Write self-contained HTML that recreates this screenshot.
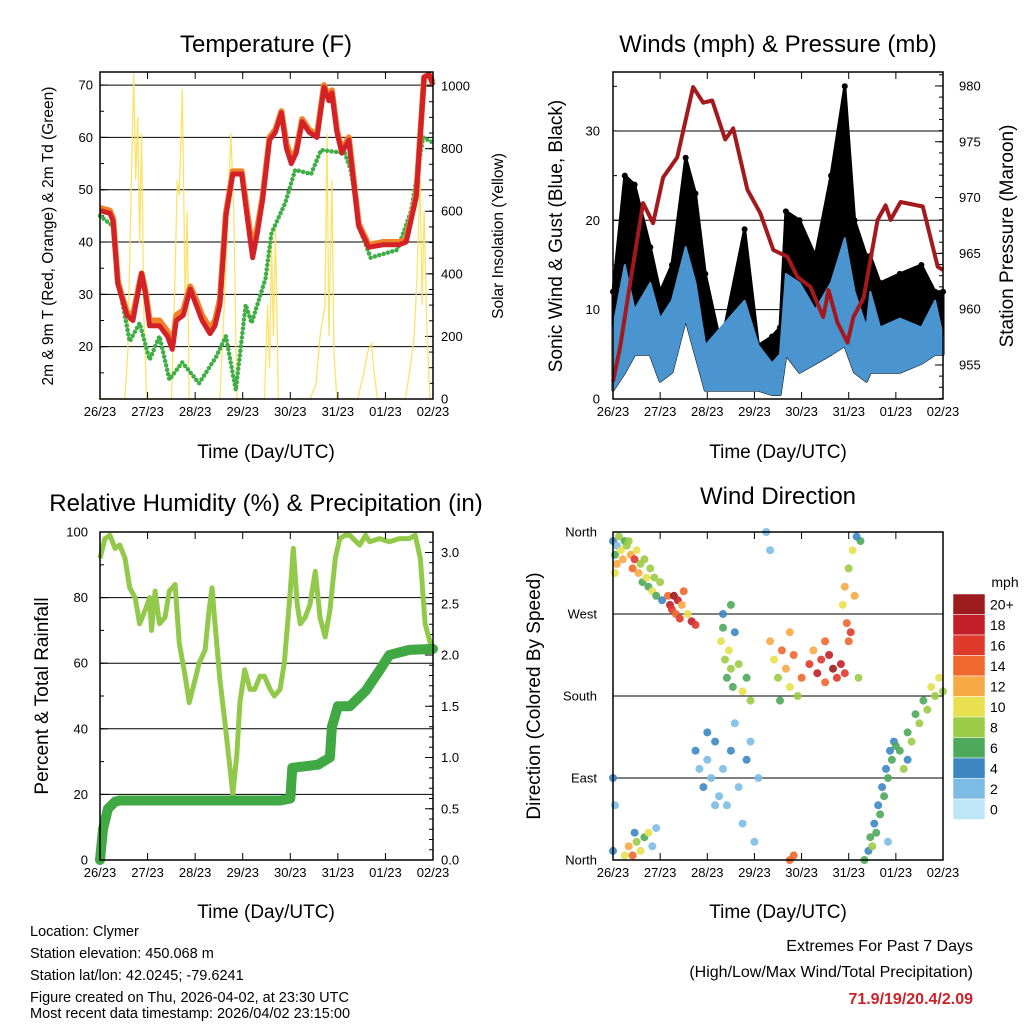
<!DOCTYPE html>
<html><head><meta charset="utf-8"><style>
html,body{margin:0;padding:0;background:#fff;}
svg{display:block;font-family:"Liberation Sans",sans-serif;}
</style></head><body>
<svg id="c" width="1024" height="1024" viewBox="0 0 1024 1024" xmlns="http://www.w3.org/2000/svg">
<g id="txt">
<text x="266" y="52" font-size="24" text-anchor="middle">Temperature (F)</text>
<text x="778" y="52" font-size="24" text-anchor="middle">Winds (mph) &amp; Pressure (mb)</text>
<text x="266" y="511" font-size="24" text-anchor="middle">Relative Humidity (%) &amp; Precipitation (in)</text>
<text x="778" y="504" font-size="24" text-anchor="middle">Wind Direction</text>
<text transform="translate(53,236) rotate(-90)" font-size="15.5" text-anchor="middle">2m &amp; 9m T (Red, Orange) &amp; 2m Td (Green)</text>
<text transform="translate(503,236) rotate(-90)" font-size="15.5" text-anchor="middle">Solar Insolation (Yellow)</text>
<text transform="translate(562,236) rotate(-90)" font-size="19" text-anchor="middle">Sonic Wind &amp; Gust (Blue, Black)</text>
<text transform="translate(1013,236) rotate(-90)" font-size="19" text-anchor="middle">Station Pressure (Maroon)</text>
<text transform="translate(48,696) rotate(-90)" font-size="19" text-anchor="middle">Percent &amp; Total Rainfall</text>
<text transform="translate(540,696) rotate(-90)" font-size="19" text-anchor="middle">Direction (Colored By Speed)</text>
<text x="266" y="458" font-size="19" text-anchor="middle">Time (Day/UTC)</text>
<text x="778" y="458" font-size="19" text-anchor="middle">Time (Day/UTC)</text>
<text x="266" y="918" font-size="19" text-anchor="middle">Time (Day/UTC)</text>
<text x="778" y="918" font-size="19" text-anchor="middle">Time (Day/UTC)</text>
<g font-size="14.5">
<text x="30" y="936">Location: Clymer</text>
<text x="30" y="958">Station elevation: 450.068 m</text>
<text x="30" y="980">Station lat/lon: 42.0245; -79.6241</text>
<text x="30" y="1002">Figure created on Thu, 2026-04-02, at 23:30 UTC</text>
<text x="30" y="1018">Most recent data timestamp: 2026/04/02 23:15:00</text>
</g>
<g font-size="16" text-anchor="end">
<text x="973" y="951">Extremes For Past 7 Days</text>
<text x="973" y="977">(High/Low/Max Wind/Total Precipitation)</text>
<text x="973" y="1004" fill="#cc2229" font-weight="bold">71.9/19/20.4/2.09</text>
</g>
<text x="1005" y="587" font-size="14" text-anchor="middle">mph</text>
</g>
</svg>
<script>
// ---- Temperature panel data (hours since 26/23) ----
const tempRedHours=[0,5,6.6,9,13.6,16.6,19,21,23,25,30,34,36.5,38.5,42,45.5,48.5,51.5,55.5,58,60.5,63.5,67,71.5,74.5,77,79.5,82,85.5,88.5,91.5,94,96.5,99,102,105.5,109.5,113,115.5,117,119.5,122,125.5,130.5,135.5,143,151,154.5,159.5,163.5,166,168];
const tempRed=[46,45.5,44,32,26,25,30,34,30,24,24,22,19.5,25,26,31,28,25,22.5,24,28,45,53,53,44,37,42,48,59.5,61,64.7,58,55,57,63,61,60,69.6,67,68.5,61,57,59.5,43,39,39.5,39.5,40,48.6,71.5,72,70];
const tempOrange=[46.5,46,44.5,32.5,26.5,26,30.5,34,30.5,25,25,23,20,26,27,31.5,29,26,23.5,25,29,45.5,53.5,53.5,45,38.5,43,48.5,60,61.5,65,59,56,57.5,63.5,61.5,60.5,70,67.5,69,61.5,57.5,60,43.5,39.5,40,40,40.5,49,71.5,72,70.5];
const dewHours=[0,6.6,10,15,20,25,30,35,41.5,50,58.5,63.5,68.5,73.5,76.5,83.5,86.5,93.5,98.5,106.5,111.5,123.5,126.5,131.5,136.5,150,157,163,168];
const dewGreen=[45,43,31,21,24.5,17.5,22,13.7,17,13,18,22,11.7,28,24.5,33,41.7,47.5,53.8,53,57.6,57,53.8,42,37,38.5,46,60,59];
const solarHours=[0,12.5,14,15.5,17,18,19,20,21,22,23.5,36,37.5,39,40,41.5,43,44,45,60.5,62,64,66,67.5,69,83,84.5,85.5,86.5,87.5,88.5,90,106,109,111,113.5,114.5,115.5,117,118,119.5,130,133,135,137,138,140,154,156.5,158.5,160,161.5,162.5,163.5,165,166.5,168];
const solarWm2=[0,0,150,600,1040,700,900,500,850,300,0,0,300,700,650,990,300,600,0,0,200,500,850,600,0,0,300,100,500,200,550,0,0,50,200,300,850,200,700,150,0,0,80,150,180,100,0,0,100,200,400,700,300,600,200,0,0];
const tempTicks=[20,30,40,50,60,70];
const solarTicks=[0,200,400,600,800,1000];
// ---- Wind panel data ----
const windHours=[0,6,11,19,24,30,37,42,47,55,67,74,81,85,88,95,103,111,118,123,129,131,136,146,157,164,168];
const windHigh=[8,15,10,13,9,11,17,13,6,8,11,6,4,5,14,13,10,13,18,12,8,12,8,9,8,11,7];
const windLow=[1,3,5,5,2,3,9,5,1,1,1,1,0.5,0.5,5,3,4,5,6,3,2,3,3,3,4,5,5];
const gustHigh=[12,25,24,17,12,15,27,23,14,6,19,6,7,8,21,20,16,25,35,20,16,16,13,14,15,12,12];
const presHours=[0,3.6,8.7,15.3,20.4,25.5,32.7,40.8,45.9,50.5,57.1,61.2,68.4,75,81.6,88.8,93.9,100.5,107,109.7,114.3,119.4,122.4,127.6,134.7,138.8,141.3,146.4,157.7,165.3,168];
const presMb=[953.5,956.6,962.3,969.5,967.7,971.8,973.6,979.9,978.5,978.7,975.2,976.2,970.7,968.6,965.3,964.7,962.9,962,959.3,961.7,958.8,957,959.3,961,968,969.3,968,969.6,969.2,963.8,963.5];
const windTicks=[0,10,20,30];
const presTicks=[955,960,965,970,975,980];
// ---- Humidity panel data ----
const rhHours=[0,2.5,5,7.6,10,12.6,15,17.7,20,22.7,25,26,27.8,30,32.8,35,37.9,40,43,45,48,50,53,55,56.5,58,60.5,63,65.6,67,69,70.6,73,75.7,78,80.7,83,85.8,88,90.8,93,96,97.5,99.5,101,103.5,106,108.6,111,113.6,116,118.7,121,123.7,126,131,134,136,141,146,151,156,159,161.6,164,166.7,168];
const rhPct=[92,98,99,95,96,92,83,80,72,76,80,70,82,72,74,82,84,66,56,48,55,60,64,76,83,72,55,42,28,20,32,48,58,52,52,56,56,52,50,52,60,82,95,78,72,74,78,88,74,68,76,92,98,99,99,96,99,97,98,97,98,98,99,92,72,66,65];
const precipHours=[0,1.5,4,7.6,10,91,96,97,110,116,117,120,126,134,141,146,156,168];
const precipIn=[0,0.3,0.5,0.57,0.58,0.58,0.6,0.9,0.93,1.0,1.3,1.5,1.5,1.65,1.85,2.0,2.05,2.06];
const rhTicks=[0,20,40,60,80,100];
const precipTicks=[0,0.5,1,1.5,2,2.5,3];
// ---- Wind direction data ----
const dirHours=[0,1,2,3,4,5,6,7,1,2, 0,1,0,6,8,10,12,14,16,18,20,11,22, 8,9,10,11,12,13,14,15, 16,17,18,19,20,21,22,24,25, 28,29,30,31,32,33,34,35,36,38,40,42, 55,56,57,58,59,60,61,62,64,66,68,70,60,56, 42,44,46,48,50,52,54,56,58,60,62,64,66,68,70,72,74,48,52,78,80, 80,82,84,86,88,90,92,94,85,90, 96,100,104,106,108,110,112,114,116,118,102,108, 117,118,119,120,121,122,123,125,120,126,124, 128,130,131,132,133,134,135,136,137,138,139,140,141,142,143,144,140, 146,148,150,152,154,156,158,160,162,164,166,168,150, 90,92];
const dirDeg=[350,335,345,355,340,330,350,345,315,325, 10,60,90,5,15,5,20,10,25,30,15,30,35, 350,335,320,330,340,315,325,305, 330,310,300,320,295,310,290,305,285, 290,280,275,290,270,285,265,280,295,270,262,258, 240,255,220,200,230,210,190,250,215,185,200,175,280,270, 120,100,80,110,90,130,70,100,60,120,150,80,40,110,130,20,90,140,60,360,340, 240,220,200,230,210,190,225,180,175,250, 200,215,205,220,195,225,210,200,215,205,230,240, 280,300,260,320,250,340,290,200,240,350,355, 0,10,25,15,40,30,60,50,80,70,100,90,120,110,130,125,20, 120,100,140,130,160,150,175,165,190,180,200,185,110, 0,5];
const dirMph=[4,6,2,8,10,12,6,8,10,12, 4,2,4,10,12,14,8,10,6,10,2,4,2, 8,12,14,16,10,12,8,6, 8,10,6,8,10,8,6,8,4, 14,18,16,20,14,18,16,12,14,10,18,16, 10,6,8,6,10,8,6,4,8,10,6,8,6,4, 4,2,4,2,2,4,2,2,2,4,2,2,2,4,2,2,2,4,2,2,2, 12,10,8,14,12,10,14,8,6,12, 14,16,18,16,14,18,20,16,18,16,12,14, 10,12,14,8,16,10,12,8,14,6,4, 6,4,6,8,4,6,4,6,4,6,4,6,4,6,4,6,2, 6,8,6,8,6,8,6,8,10,8,10,8,4, 14,14];
const dirTickLabels=["North","East","South","West","North"];
const dayLabels=["26/23","27/23","28/23","29/23","30/23","31/23","01/23","02/23"];
const speedLabels=["20+","18","16","14","12","10","8","6","4","2","0"];
const speedColors=["#9b1b1f","#c21f2b","#e03a2c","#f0682d","#f7a945","#e8e04f","#9ccb45","#4fa95b","#3d87c3","#7cbce4","#bfe6f7"];
</script>
<script>
const svg=document.getElementById('c');
const NS='http://www.w3.org/2000/svg';
function lin(d0,d1,r0,r1){return v=>r0+(v-d0)/(d1-d0)*(r1-r0);}
function mk(tag,name,attrs,parent){
  const el=document.createElementNS(NS,tag);
  for(const k in attrs)el.setAttribute(k,attrs[k]);
  
  
  (parent||svg).appendChild(el);return el;
}
function pathFrom(xs,ys,fx,fy){return xs.map((t,i)=>(i?'L':'M')+fx(t).toFixed(1)+','+fy(ys[i]).toFixed(1)).join('');}
function txt(x,y,s,anchor,size,name){const t=mk('text',name,{x:x,y:y,'font-size':size||13,'text-anchor':anchor||'middle'});t.textContent=s;return t;}

function frame(x0,y0,x1,y1,pre){
  const fx=lin(0,7,x0,x1);
  for(let d=0;d<=7;d++){
    const x=fx(d);
    mk('line',pre+'-x-tick',{x1:x,x2:x,y1:y1,y2:y1-7,stroke:'#000','stroke-width':1});
    mk('line',pre+'-top-tick',{x1:x,x2:x,y1:y0,y2:y0+7,stroke:'#000','stroke-width':1});
    txt(x,y1+17,dayLabels[d],'middle',13,pre+'-x-tick-label');
  }
}
function border(x0,y0,x1,y1,pre){mk('rect',pre+'-plot-border',{x:x0,y:y0,width:x1-x0,height:y1-y0,fill:'none',stroke:'#000','stroke-width':1.5});}
function leftAxis(ticks,fy,x0,x1,labelX,pre,fmt,grid,minorStep,dmin,dmax,side){
  ticks.forEach(v=>{
    const y=fy(v);
    if(grid)mk('line',pre+'-grid-line',{x1:x0,x2:x1,y1:y,y2:y,stroke:'#000','stroke-width':1});
    const xe=side==='left'?x0:x1, dir=side==='left'?1:-1;
    mk('line',pre+'-major-tick',{x1:xe,x2:xe+dir*8,y1:y,y2:y,stroke:'#000','stroke-width':1});
    txt(labelX,y+4.5,fmt?fmt(v):String(v),side==='left'?'end':'start',13,pre+'-tick-label');
  });
  if(minorStep){for(let v=dmin;v<=dmax+1e-9;v+=minorStep){const y=fy(v);const xe=side==='left'?x0:x1,dir=side==='left'?1:-1;
    mk('line',pre+'-minor-tick',{x1:xe,x2:xe+dir*4,y1:y,y2:y,stroke:'#000','stroke-width':1});}}
}

// ===== Panel 1: Temperature =====
(function(){
  const X0=100,X1=433,Y0=72,Y1=399;
  const fx=lin(0,168,X0,X1), fT=lin(10,72.5,Y1,Y0), fS=lin(0,1045,Y1,Y0);
  leftAxis(tempTicks,fT,X0,X1,93,'temp',null,true,5,15,70,'left');
  leftAxis(solarTicks,fS,X0,X1,441,'solar',null,false,50,0,1000,'right');
  mk('path','solar-line',{d:pathFrom(solarHours,solarWm2,fx,fS),fill:'none',stroke:'#fbe05a','stroke-width':1.3,opacity:0.9});
  mk('path','dewpoint-line',{d:pathFrom(dewHours,dewGreen,fx,fT),fill:'none',stroke:'#3fae45','stroke-width':4.5,'stroke-linecap':'round','stroke-dasharray':'0 4.5'});
  mk('path','temp-9m-orange-line',{d:pathFrom(tempRedHours,tempOrange,fx,fT),fill:'none',stroke:'#f0822a','stroke-width':6,'stroke-linejoin':'round'});
  mk('path','temp-2m-red-line',{d:pathFrom(tempRedHours,tempRed,fx,fT),fill:'none',stroke:'#d42127','stroke-width':5,'stroke-linejoin':'round'});
  frame(X0,Y0,X1,Y1,'temp');border(X0,Y0,X1,Y1,'temp');
})();

// ===== Panel 2: Winds & Pressure =====
(function(){
  const X0=613,X1=943,Y0=72,Y1=399;
  const fx=lin(0,168,X0,X1), fW=lin(0,36.6,Y1,Y0), fP=lin(951.95,981.25,Y1,Y0);
  leftAxis(windTicks,fW,X0,X1,600,'wind',null,true,5,0,35,'left');
  leftAxis(presTicks,fP,X0,X1,959,'pressure',null,false,1,952,981,'right');
  let d='M'+windHours.map((t,i)=>fx(t).toFixed(1)+','+fW(gustHigh[i]).toFixed(1)).join('L');
  for(let i=windHours.length-1;i>=0;i--)d+='L'+fx(windHours[i]).toFixed(1)+','+fW(windLow[i]).toFixed(1);
  mk('path','gust-scatter-band',{d:d+'Z',fill:'#000',stroke:'#000','stroke-width':3,'stroke-linejoin':'round'});
  gustHigh.forEach((g,i)=>mk('circle','gust-point',{cx:fx(windHours[i]),cy:fW(g),r:3,fill:'#000'}));
  let b='M'+windHours.map((t,i)=>fx(t).toFixed(1)+','+fW(windHigh[i]).toFixed(1)).join('L');
  for(let i=windHours.length-1;i>=0;i--)b+='L'+fx(windHours[i]).toFixed(1)+','+fW(windLow[i]).toFixed(1);
  mk('path','sustained-wind-band',{d:b+'Z',fill:'#4a94d0',stroke:'#4a94d0','stroke-width':2,'stroke-linejoin':'round'});
  mk('path','pressure-line',{d:pathFrom(presHours,presMb,fx,fP),fill:'none',stroke:'#a4191d','stroke-width':4,'stroke-linejoin':'round'});
  frame(X0,Y0,X1,Y1,'wind');border(X0,Y0,X1,Y1,'wind');
})();

// ===== Panel 3: Humidity & Precip =====
(function(){
  const X0=100,X1=433,Y0=532,Y1=860;
  const fx=lin(0,168,X0,X1), fR=lin(0,100,Y1,Y0), fPr=lin(0,3.2,Y1,Y0);
  leftAxis(rhTicks,fR,X0,X1,88,'humidity',null,true,10,0,100,'left');
  leftAxis(precipTicks,fPr,X0,X1,441,'precip',v=>v.toFixed(1),false,0.1,0,3.2,'right');
  mk('path','humidity-line',{d:pathFrom(rhHours,rhPct,fx,fR),fill:'none',stroke:'#93c94a','stroke-width':5,'stroke-linejoin':'round'});
  mk('path','precip-line',{d:pathFrom(precipHours,precipIn,fx,fPr),fill:'none',stroke:'#41a943','stroke-width':10,'stroke-linejoin':'round','stroke-linecap':'round'});
  frame(X0,Y0,X1,Y1,'humidity');border(X0,Y0,X1,Y1,'humidity');
})();

// ===== Panel 4: Wind direction =====
(function(){
  const X0=613,X1=943,Y0=532,Y1=860;
  const fx=lin(0,168,X0,X1), fD=lin(0,360,Y1,Y0);
  dirTickLabels.forEach((s,i)=>{const y=fD(i*90);
    mk('line','direction-grid-line',{x1:X0,x2:X1,y1:y,y2:y,stroke:'#000','stroke-width':1});
    txt(597,y+4.5,s,'end',13,'direction-tick-label');});
  dirHours.forEach((t,i)=>{
    const idx=Math.max(0,Math.min(10,10-Math.round(dirMph[i]/2)));
    mk('circle','direction-point',{cx:fx(t).toFixed(1),cy:fD(dirDeg[i]).toFixed(1),r:4,fill:speedColors[idx],opacity:0.9});
  });
  frame(X0,Y0,X1,Y1,'direction');border(X0,Y0,X1,Y1,'direction');
  const bh=20.5;
  speedLabels.forEach((s,i)=>{
    mk('rect','colorbar-box',{x:953,y:594+i*bh,width:32,height:bh,fill:speedColors[i],stroke:'#fff','stroke-width':0.5});
    txt(990,594+i*bh+bh/2+5,s,'start',14,'colorbar-label');
  });
})();
</script>
</body></html>
